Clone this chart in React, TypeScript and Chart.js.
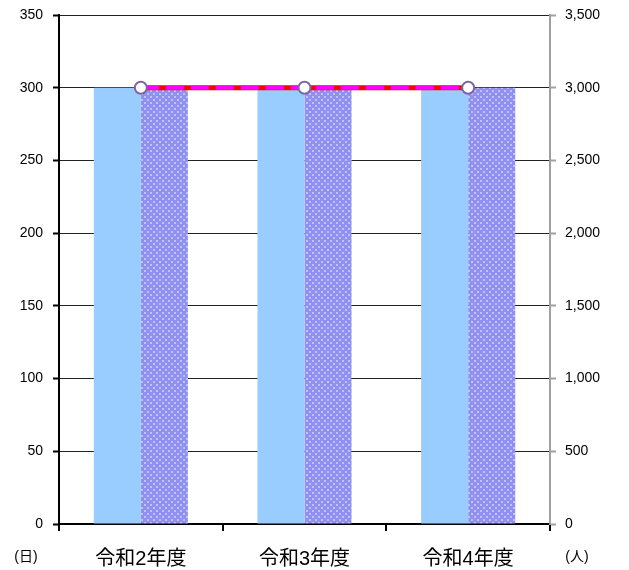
import React, { useEffect, useRef } from "react";
import { Chart, registerables } from "chart.js";

Chart.register(...registerables);

const categories = ["令和2年度", "令和3年度", "令和4年度"];
const daysA = [300, 300, 300];
const daysB = [300, 300, 300];
const people = [3000, 3000, 3000];
const leftTicks = [0, 50, 100, 150, 200, 250, 300, 350];
const rightTicks = [0, 500, 1000, 1500, 2000, 2500, 3000, 3500];
const leftUnit = "(日)";
const rightUnit = "(人)";

function makePattern(): CanvasPattern | string {
  const c = document.createElement("canvas");
  c.width = 6;
  c.height = 6;
  const g = c.getContext("2d");
  if (!g) return "#9999FF";
  g.fillStyle = "#9090F0";
  g.fillRect(0, 0, 6, 6);
  g.fillStyle = "#C0C0FF";
  g.fillRect(0, 0, 2, 2);
  g.fillRect(3, 3, 2, 2);
  const p = g.createPattern(c, "repeat");
  return p || "#9999FF";
}

const FONT = "'Liberation Sans', Arial, 'Noto Sans CJK JP', sans-serif";

export default function App() {
  const ref = useRef<HTMLCanvasElement | null>(null);
  useEffect(() => {
    if (!ref.current) return;
    const unitPlugin = {
      id: "units",
      afterDraw(chart: any) {
        const ctx = chart.ctx;
        ctx.save();
        ctx.fillStyle = "#000";
        ctx.font = "14px " + FONT;
        ctx.textAlign = "center";
        ctx.textBaseline = "middle";
        ctx.fillText(leftUnit, 26, 557);
        ctx.fillText(rightUnit, 577, 557);
        ctx.restore();
      },
    };
    const chart = new Chart(ref.current, {
      type: "bar",
      data: {
        labels: categories,
        datasets: [
          {
            type: "line",
            data: people,
            yAxisID: "y1",
            borderColor: "#FF00FF",
            borderWidth: 4,
            borderDash: [18, 7],
            pointRadius: 6,
            pointBorderWidth: 2,
            pointBackgroundColor: "#FFFFFF",
            pointBorderColor: "#8064A2",
            order: 0,
          } as any,
          {
            type: "line",
            data: people,
            yAxisID: "y1",
            borderColor: "#FF0000",
            borderWidth: 5,
            pointRadius: 0,
            order: 1,
          } as any,
          {
            type: "bar",
            data: daysA,
            yAxisID: "y",
            backgroundColor: "#99CCFF",
            barPercentage: 1,
            categoryPercentage: 0.575,
            order: 2,
          },
          {
            type: "bar",
            data: daysB,
            yAxisID: "y",
            backgroundColor: makePattern() as any,
            barPercentage: 1,
            categoryPercentage: 0.575,
            order: 3,
          },
        ],
      },
      options: {
        animation: false,
        responsive: true,
        maintainAspectRatio: false,
        layout: { padding: { top: 15, left: 0, right: 0, bottom: 0 } },
        plugins: { legend: { display: false }, tooltip: { enabled: false } },
        scales: {
          x: {
            offset: true,
            grid: {
              offset: true,
              drawOnChartArea: false,
              drawTicks: true,
              tickLength: 7,
              color: "#000",
              lineWidth: 2,
            },
            border: { color: "#000", width: 2 },
            ticks: {
              color: "#000",
              font: { size: 20, family: FONT },
              padding: 16,
              maxRotation: 0,
            },
            afterFit(s: any) {
              s.height = 46;
              s.paddingLeft = 0;
              s.paddingRight = 0;
            },
          },
          y: {
            position: "left",
            min: 0,
            max: 350,
            afterBuildTicks(s: any) {
              s.ticks = leftTicks.map((v) => ({ value: v }));
            },
            grid: {
              color: "#222",
              lineWidth: 1,
              tickLength: 6,
              tickColor: "#000",
              tickWidth: 2,
            },
            border: { color: "#000", width: 2 },
            ticks: {
              color: "#000",
              font: { size: 14, family: FONT },
              padding: 10,
            },
            afterFit(s: any) {
              s.width = 59;
              s.paddingTop = 0;
              s.paddingBottom = 0;
            },
          },
          y1: {
            position: "right",
            min: 0,
            max: 3500,
            afterBuildTicks(s: any) {
              s.ticks = rightTicks.map((v) => ({ value: v }));
            },
            grid: {
              drawOnChartArea: false,
              tickLength: 6,
              tickColor: "#A0A0A0",
              tickWidth: 2,
            },
            border: { color: "#A0A0A0", width: 2 },
            ticks: {
              color: "#000",
              font: { size: 14, family: FONT },
              padding: 9,
              callback: (v: any) => Number(v).toLocaleString("en-US"),
            },
            afterFit(s: any) {
              s.width = 79;
              s.paddingTop = 0;
              s.paddingBottom = 0;
            },
          },
        },
      },
      plugins: [unitPlugin],
    });
    return () => chart.destroy();
  }, []);
  return (
    <div style={{ position: "absolute", left: 0, top: 0, width: 629, height: 570, background: "#fff" }}>
      <canvas ref={ref} />
    </div>
  );
}
